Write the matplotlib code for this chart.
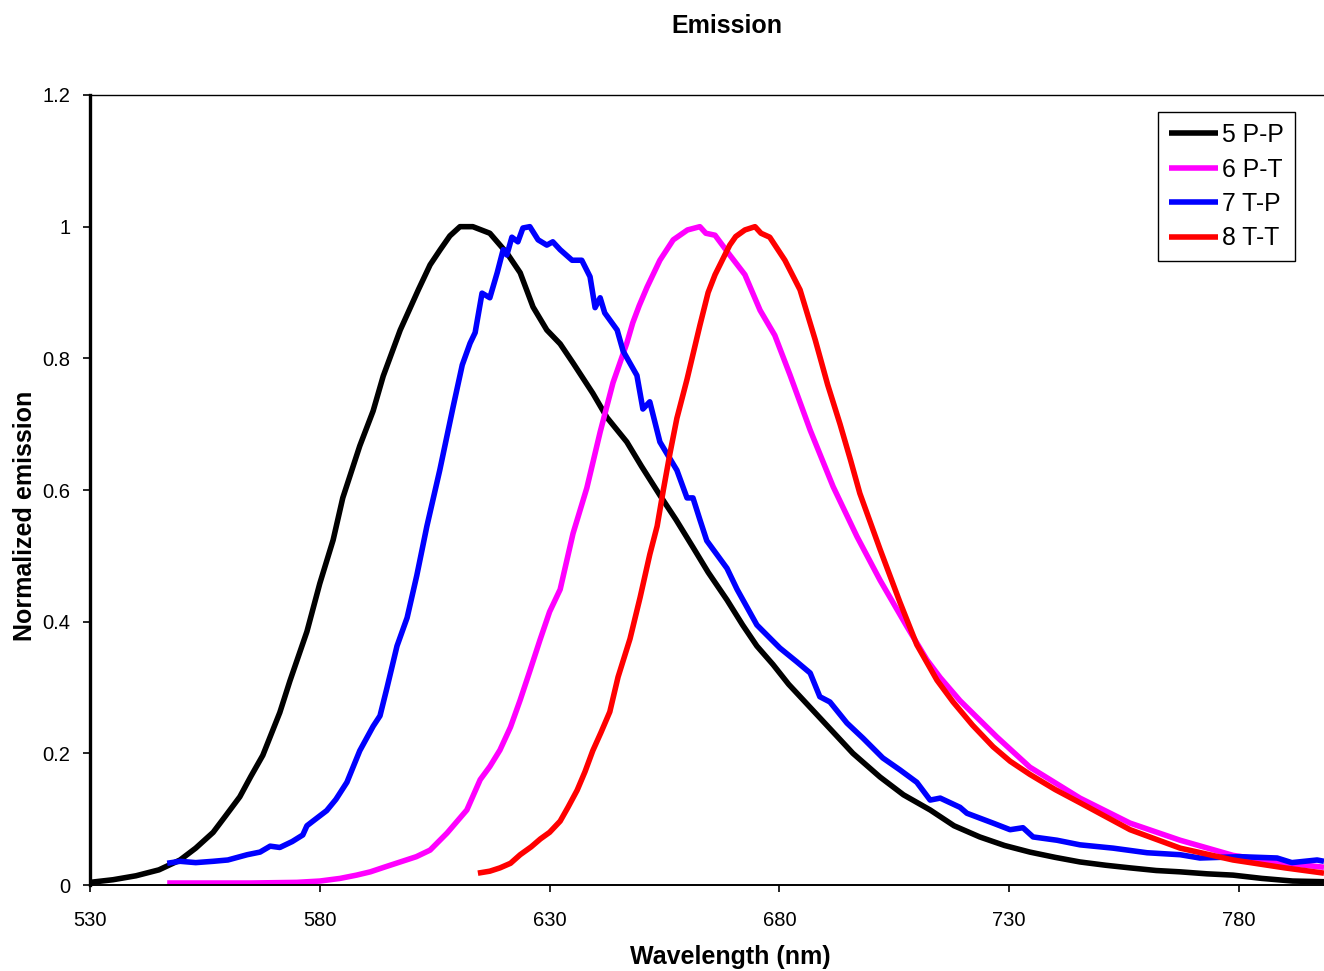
import numpy as np
import matplotlib
matplotlib.use("Agg")
import matplotlib.pyplot as plt

plt.rcParams['font.family'] = ['Liberation Sans', 'DejaVu Sans']

# emission spectra (wavelength nm, normalized intensity)
wl_5pp = [530, 535, 540, 545, 549.6, 553, 556.8, 559.5, 562.6, 565, 567.6, 571.3, 573.5, 577.2, 580,
          582.9, 585, 588.7, 591.6, 593.8, 597.5, 601.5, 604, 606.2, 608.3, 610.5, 613.3, 617, 620.7,
          623.6, 626.4, 629.4, 632.3, 635.1, 639.4, 642.5, 646.8, 650, 654, 657.5, 661.2, 664.5,
          668.6, 672, 675.1, 678.6, 682, 686, 690, 696, 701.9, 707, 712.8, 718, 723.6, 729, 734.5,
          740, 745.4, 751, 756.3, 762, 767.2, 773, 778.7, 785, 791.7, 798.5]
em_5pp = [0.004, 0.008, 0.014, 0.023, 0.038, 0.056, 0.08, 0.105, 0.134, 0.165, 0.197, 0.262, 0.31,
          0.385, 0.458, 0.524, 0.588, 0.667, 0.72, 0.773, 0.843, 0.905, 0.942, 0.965, 0.986, 1.0,
          1.0, 0.99, 0.96, 0.93, 0.878, 0.843, 0.822, 0.793, 0.747, 0.71, 0.673, 0.636, 0.592, 0.555,
          0.513, 0.475, 0.433, 0.395, 0.363, 0.335, 0.305, 0.275, 0.245, 0.2, 0.164, 0.137, 0.114,
          0.09, 0.073, 0.06, 0.05, 0.042, 0.035, 0.03, 0.026, 0.022, 0.02, 0.017, 0.015, 0.01, 0.006,
          0.005]

wl_6pt = [546.8, 555, 565, 575, 580, 584.4, 588, 591, 594, 597.5, 601, 604, 607.7, 612, 614.9, 617,
          619.2, 621.5, 623.6, 625.7, 627.9, 630, 632.3, 635.1, 638.1, 641, 643.8, 646.8, 648.1,
          649.5, 651.2, 654, 656.9, 660, 662.7, 664, 666, 669.2, 672.5, 675.8, 679, 682.3, 686.7,
          691.7, 696.9, 701.9, 707.8, 712.1, 715, 719.3, 727.3, 734.5, 745.4, 756.3, 767.2, 778.7,
          790, 798.5]
em_6pt = [0.003, 0.003, 0.003, 0.004, 0.006, 0.01, 0.015, 0.02, 0.027, 0.035, 0.043, 0.053, 0.079,
          0.114, 0.16, 0.18, 0.205, 0.24, 0.281, 0.325, 0.372, 0.415, 0.449, 0.534, 0.603, 0.688,
          0.763, 0.823, 0.854, 0.88, 0.908, 0.949, 0.98, 0.995, 1.0, 0.99, 0.987, 0.957, 0.927,
          0.873, 0.835, 0.775, 0.691, 0.605, 0.529, 0.463, 0.392, 0.342, 0.315, 0.28, 0.225, 0.179,
          0.132, 0.094, 0.068, 0.045, 0.033, 0.027]

wl_7tp = [546.8, 549.6, 553, 556.8, 560, 564.2, 567, 569.2, 571.3, 574, 576.3, 577.2, 578.5, 581.5,
          583.5, 585.9, 588.7, 591.6, 593.1, 594.6, 596.8, 599, 601.1, 603.3, 606.1, 609, 611, 612.7,
          613.8, 615.3, 617, 618.6, 619.9, 620.7, 621.8, 623.1, 624.2, 625.7, 627.5, 629.4, 630.7,
          632.3, 634.9, 637, 638.8, 639.9, 641, 642, 644.7, 646, 649, 650.3, 651.8, 654, 657.7,
          659.9, 661.2, 662.7, 664.2, 668.6, 670.8, 675.1, 680.1, 683.8, 686.7, 688.8, 691, 694.7,
          698.2, 702.5, 706.2, 709.9, 712.8, 715, 719.3, 720.8, 726.5, 730.2, 733, 735.2, 740.4,
          745.4, 752.6, 760, 767.2, 771.5, 780.2, 788.3, 791.5, 797, 798.5]
em_7tp = [0.033, 0.036, 0.034, 0.036, 0.038, 0.046, 0.05, 0.059, 0.057, 0.066, 0.076, 0.09, 0.097,
          0.113, 0.13, 0.156, 0.204, 0.241, 0.257, 0.299, 0.363, 0.406, 0.47, 0.545, 0.63, 0.726,
          0.79, 0.823, 0.839, 0.899, 0.892, 0.93, 0.965, 0.957, 0.984, 0.977, 0.998, 1.0, 0.98,
          0.972, 0.977, 0.965, 0.949, 0.949, 0.924, 0.877, 0.892, 0.869, 0.843, 0.811, 0.774, 0.723,
          0.734, 0.673, 0.63, 0.588, 0.588, 0.555, 0.523, 0.481, 0.449, 0.395, 0.36, 0.339, 0.322,
          0.286, 0.278, 0.246, 0.223, 0.193, 0.175, 0.156, 0.129, 0.132, 0.118, 0.109, 0.094, 0.084,
          0.087, 0.073, 0.068, 0.061, 0.056, 0.049, 0.046, 0.041, 0.043, 0.041, 0.034, 0.038, 0.036]

wl_8tt = [614.4, 617, 619.2, 621.5, 623.6, 626, 628, 630, 632.3, 634, 636, 637.7, 639.4, 641.2,
          643.1, 644.9, 647.5, 649.7, 651.8, 653.4, 654.7, 656.2, 657.7, 659.9, 662.7, 664.5, 666,
          669.2, 670.5, 672.5, 674.7, 676, 677.9, 681.2, 684.5, 687.8, 690.5, 693.2, 695.5, 697.5,
          701.9, 706.2, 709.9, 714.3, 717.8, 722, 726.5, 730.2, 734.5, 740, 745.4, 756.3, 767.2,
          778.7, 790, 798.5]
em_8tt = [0.018, 0.021, 0.026, 0.033, 0.046, 0.058, 0.07, 0.08, 0.097, 0.118, 0.144, 0.172, 0.204,
          0.232, 0.263, 0.316, 0.374, 0.437, 0.502, 0.545, 0.598, 0.656, 0.709, 0.768, 0.85, 0.9,
          0.927, 0.972, 0.985, 0.995, 1.0, 0.99, 0.984, 0.949, 0.904, 0.828, 0.76, 0.7, 0.645, 0.595,
          0.51, 0.43, 0.365, 0.311, 0.278, 0.243, 0.21, 0.188, 0.168, 0.145, 0.125, 0.084, 0.056,
          0.038, 0.026, 0.018]

labels = ["5 P-P", "6 P-T", "7 T-P", "8 T-T"]
colors = ["black", "#ff00ff", "#0000ff", "#ff0000"]

x_ticks = [530, 580, 630, 680, 730, 780]
y_ticks = [0, 0.2, 0.4, 0.6, 0.8, 1.0, 1.2]
y_tick_labels = ["0", "0.2", "0.4", "0.6", "0.8", "1", "1.2"]

fig = plt.figure(figsize=(13.24, 9.71), dpi=100)
ax = fig.add_axes([90 / 1324, 86 / 971, 1234 / 1324, 790 / 971])

series = [(wl_5pp, em_5pp), (wl_6pt, em_6pt), (wl_7tp, em_7tp), (wl_8tt, em_8tt)]
for (wl, em), lab, col in zip(series, labels, colors):
    ax.plot(wl, em, color=col, lw=4.0, label=lab, solid_joinstyle='round', solid_capstyle='butt')

ax.set_xlim(530, 798.5)
ax.set_ylim(0, 1.2)
ax.set_xticks(x_ticks)
ax.set_yticks(y_ticks)
ax.set_yticklabels(y_tick_labels)

ax.spines['right'].set_visible(False)
ax.spines['left'].set_linewidth(2.4)
ax.spines['top'].set_linewidth(1.0)
ax.spines['bottom'].set_linewidth(1.4)
ax.tick_params(axis='both', direction='out', length=5, width=1.2, labelsize=14.5, colors='black')
ax.tick_params(axis='x', pad=14)
ax.tick_params(axis='y', pad=9)

ax.set_xlabel("Wavelength (nm)", fontsize=18, fontweight='bold')
ax.xaxis.set_label_coords(0.519, -0.076)
ax.set_ylabel("Normalized emission", fontsize=18, fontweight='bold')
ax.yaxis.set_label_coords(-0.043, 0.467)

fig.text(727 / 1324, 1 - 26 / 971, "Emission", fontsize=18, fontweight='bold', ha='center', va='center')

leg = ax.legend(loc='upper right', bbox_to_anchor=(1295 / 1324, 1 - 112 / 971),
                bbox_transform=fig.transFigure, borderaxespad=0, fancybox=False,
                edgecolor='black', framealpha=1, fontsize=17.8, handlelength=2.0,
                handletextpad=0.15, labelspacing=0.42, borderpad=0.45)
leg.get_frame().set_linewidth(1.0)

fig.savefig("out.png", dpi=100)
